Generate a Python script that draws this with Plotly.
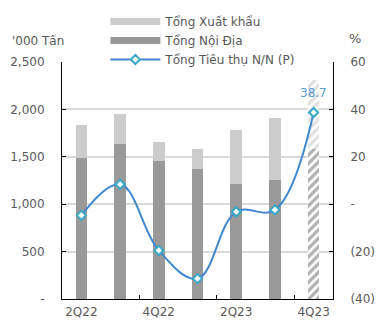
import plotly.graph_objects as go

# Quarterly volumes ('000 tonnes) and YoY growth (%)
quarters = ["2Q22", "3Q22", "4Q22", "1Q23", "2Q23", "3Q23", "4Q23"]
noi_dia = [1490, 1632, 1453, 1368, 1210, 1253, 1586]
xuat_khau = [350, 323, 207, 211, 576, 659, 727]
tieu_thu_yoy = [-4.7, 8.4, -19.5, -31.4, -3.2, -2.4, 38.7]
left_ticks = [0, 500, 1000, 1500, 2000, 2500]
left_labels = ["-", "500", "1,000", "1,500", "2,000", "2,500"]
right_ticks = [-40, -20, 0, 20, 40, 60]
right_labels = ["(40)", "(20)", "-", "20", "40", "60"]
shown_quarters = ["2Q22", "4Q22", "2Q23", "4Q23"]

DARK = "#999999"
LIGHT = "#cccccc"
LINE = "#3f88d0"
MARK = "#3aa9c6"
TXT = "#595959"
FONT = "DejaVu Sans"

x = list(range(len(quarters)))
forecast = ["" if i < len(quarters) - 1 else "/" for i in x]

fig = go.Figure()
fig.add_bar(
    x=x, y=noi_dia, width=0.3, showlegend=False,
    marker=dict(color=DARK, line_width=0,
                pattern=dict(shape=forecast, fgcolor="#666666", bgcolor="white", size=6, solidity=0.55)),
)
fig.add_bar(
    x=x, y=xuat_khau, width=0.3, showlegend=False,
    marker=dict(color=LIGHT, line_width=0,
                pattern=dict(shape=forecast, fgcolor="#c4c4c4", bgcolor="white", size=6, solidity=0.55)),
)
fig.add_scatter(
    x=x, y=tieu_thu_yoy, yaxis="y2", mode="lines+markers", showlegend=False,
    line=dict(color=LINE, width=2, shape="spline", smoothing=1.1),
    marker=dict(symbol="diamond", size=7, color="white", line=dict(color=MARK, width=2)),
    cliponaxis=False,
)

# legend entries
fig.add_scatter(x=[None], y=[None], mode="lines", name="Tổng Xuất khẩu",
                line=dict(color=LIGHT, width=7))
fig.add_scatter(x=[None], y=[None], mode="lines", name="Tổng Nội Địa",
                line=dict(color=DARK, width=7))
fig.add_scatter(x=[None], y=[None], mode="lines+markers", name="Tổng Tiêu thụ N/N (P)",
                line=dict(color=LINE, width=2),
                marker=dict(symbol="diamond", size=7, color="white", line=dict(color=MARK, width=2)))

fig.update_layout(
    width=378, height=325,
    margin=dict(l=62, r=45, t=62, b=26, autoexpand=False),
    paper_bgcolor="white", plot_bgcolor="white",
    barmode="stack",
    font=dict(family=FONT, size=12, color=TXT),
    legend=dict(x=0.16, y=1.232, xanchor="left", yanchor="top", itemwidth=50,
                bgcolor="rgba(0,0,0,0)", font=dict(size=12, color=TXT),
                tracegroupgap=0, traceorder="normal"),
    xaxis=dict(range=[-0.5, 6.5], tickvals=[0, 2, 4, 6], ticktext=shown_quarters,
               showgrid=False, zeroline=False, showline=True, linecolor="black", linewidth=1,
               ticks="", ticklabelstandoff=2, automargin=False,
               minor=dict(tickvals=[1.5, 3.5, 5.5], ticks="inside", ticklen=4, tickcolor="black")),
    yaxis=dict(range=[0, 2500], tickvals=left_ticks, ticktext=left_labels,
               showgrid=True, gridcolor="#d9d9d9", gridwidth=1.5, zeroline=False,
               showline=True, linecolor="black", linewidth=1, automargin=False,
               ticks="inside", ticklen=4, tickcolor="black", ticklabelstandoff=14),
    yaxis2=dict(range=[-40, 60], overlaying="y", side="right", tickvals=right_ticks,
                ticktext=right_labels, showgrid=False, zeroline=False,
                showline=True, linecolor="black", linewidth=1, automargin=False,
                ticks="inside", ticklen=4, tickcolor="black", ticklabelstandoff=14),
    annotations=[
        dict(text=f"{tieu_thu_yoy[-1]:.1f}", x=x[-1], y=tieu_thu_yoy[-1], xref="x", yref="y2",
             yshift=19, xanchor="center", yanchor="middle", showarrow=False,
             font=dict(size=12, color="#5b9bd5")),
        dict(text="'000 Tấn", xref="paper", yref="paper", x=-0.089, y=1.089,
             xanchor="center", yanchor="middle",
             showarrow=False, font=dict(size=12, color=TXT)),
        dict(text="%", xref="paper", yref="paper", x=1.081, y=1.101,
             xanchor="center", yanchor="middle",
             showarrow=False, font=dict(size=13, color=TXT)),
    ],
)

fig.write_html("out.html")
